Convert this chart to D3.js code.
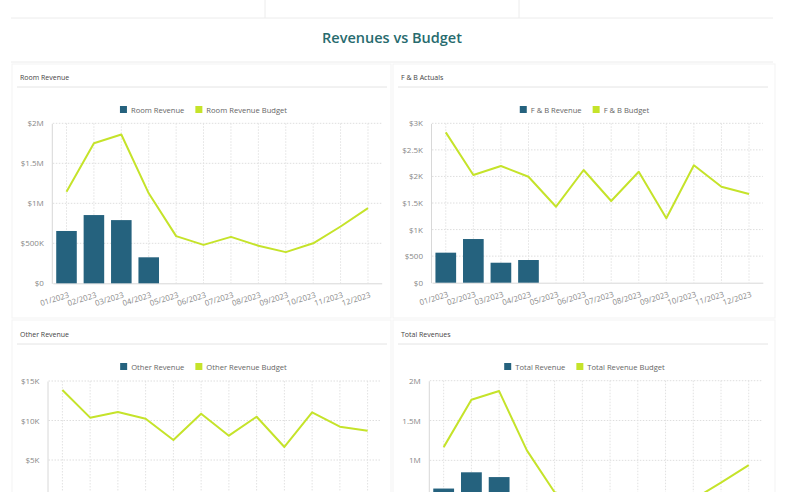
<!DOCTYPE html>
<html>
<head>
<meta charset="utf-8">
<script src="https://cdn.jsdelivr.net/npm/d3@7"></script>
<style>
  body { margin: 0; background: #fff; font-family: "Open Sans", sans-serif; }
  svg { display: block; }
</style>
</head>
<body>
<div id="chart"></div>
<script>
const months = ["01/2023", "02/2023", "03/2023", "04/2023", "05/2023", "06/2023",
                "07/2023", "08/2023", "09/2023", "10/2023", "11/2023", "12/2023"];

const roomRevenue = [654000, 853000, 790000, 325000];
const roomBudget = [1145000, 1750000, 1860000, 1125000, 590000, 480000,
                    580000, 470000, 390000, 500000, 710000, 940000];

const fbRevenue = [565, 822, 376, 427];
const fbBudget = [2830, 2027, 2196, 1995, 1430, 2121, 1538, 2089, 1212, 2209, 1807, 1669];

const otherRevenue = [];
const otherBudget = [13860, 10360, 11080, 10230, 7530, 10860, 8080, 10480, 6650, 11030, 9220, 8710];

const totalRevenue = [646000, 850000, 790000, 330000];
const totalBudget = [1166000, 1760000, 1870000, 1125000, 600000, 490000,
                     590000, 480000, 400000, 510000, 720000, 940000];

const roomTicks = [0, 500000, 1000000, 1500000, 2000000];
const roomTickLabels = ["$0", "$500K", "$1M", "$1.5M", "$2M"];
const fbTicks = [0, 500, 1000, 1500, 2000, 2500, 3000];
const fbTickLabels = ["$0", "$500", "$1K", "$1.5K", "$2K", "$2.5K", "$3K"];
const otherTicks = [0, 5000, 10000, 15000];
const otherTickLabels = ["$0", "$5K", "$10K", "$15K"];
const totalTicks = [0, 500000, 1000000, 1500000, 2000000];
const totalTickLabels = ["0", "500K", "1M", "1.5M", "2M"];

const barColor = "#25627e";
const lineColor = "#c5e32a";

const width = 786, height = 492;

const svg = d3.select("#chart")
    .append("svg")
    .attr("width", width)
    .attr("height", height);

svg.append("rect").attr("width", width).attr("height", height).attr("fill", "#fff");

// leftovers of the cards above + section frame
const frame = svg.append("g").attr("stroke", "#ececec").attr("fill", "none");
frame.append("line").attr("x1", 11).attr("x2", 773).attr("y1", 18).attr("y2", 18);
frame.append("line").attr("x1", 265).attr("x2", 265).attr("y1", 0).attr("y2", 18);
frame.append("line").attr("x1", 519).attr("x2", 519).attr("y1", 0).attr("y2", 18);
frame.append("line").attr("x1", 11).attr("x2", 773).attr("y1", 62).attr("y2", 62);
frame.append("rect").attr("x", 12).attr("y", 64).attr("width", 379).attr("height", 254).attr("stroke", "#f3f3f3");
frame.append("rect").attr("x", 393).attr("y", 64).attr("width", 382).attr("height", 254).attr("stroke", "#f3f3f3");
frame.append("rect").attr("x", 12).attr("y", 320).attr("width", 379).attr("height", 200).attr("stroke", "#f3f3f3");
frame.append("rect").attr("x", 393).attr("y", 320).attr("width", 382).attr("height", 200).attr("stroke", "#f3f3f3");

svg.append("text")
    .attr("x", 392)
    .attr("y", 43)
    .attr("text-anchor", "middle")
    .attr("fill", "#276b6e")
    .attr("font-size", "14.5px")
    .attr("font-weight", 600)
    .text("Revenues vs Budget");

function drawPanel(p) {
    const g = svg.append("g");

    g.append("text")
        .attr("x", p.left)
        .attr("y", p.titleY)
        .attr("fill", "#444")
        .attr("font-size", "7px")
        .text(p.title);
    g.append("line")
        .attr("x1", p.left - 3).attr("x2", p.right)
        .attr("y1", p.titleY + 7).attr("y2", p.titleY + 7)
        .attr("stroke", "#e4e4e4");

    const x = d3.scaleBand()
        .domain(months)
        .range([p.x0, p.x1])
        .paddingInner(0.25)
        .paddingOuter(0.125);

    const y = d3.scaleLinear()
        .domain([0, p.ticks[p.ticks.length - 1]])
        .range([p.y0, p.y1]);

    // legend
    const legend = g.append("g");
    const items = [
        { label: p.barLabel, color: barColor },
        { label: p.lineLabel, color: lineColor }
    ];
    let lx = 0;
    items.forEach(it => {
        const item = legend.append("g").attr("transform", `translate(${lx},0)`);
        item.append("rect")
            .attr("x", 0).attr("y", -6)
            .attr("width", 7).attr("height", 7)
            .attr("fill", it.color);
        const t = item.append("text")
            .attr("x", 11).attr("y", 0.5)
            .attr("fill", "#666")
            .attr("font-size", "7.6px")
            .text(it.label);
        lx += 11 + t.node().getComputedTextLength() + 11;
    });
    lx -= 11;
    legend.attr("transform", `translate(${(p.left + p.right) / 2 - lx / 2},${p.legendY})`);

    // grid
    g.append("g")
        .selectAll("line")
        .data(p.ticks.slice(1))
        .join("line")
        .attr("x1", p.x0).attr("x2", p.x1)
        .attr("y1", d => y(d)).attr("y2", d => y(d))
        .attr("stroke", "#dedede")
        .attr("stroke-dasharray", "1.5,1.5");
    g.append("g")
        .selectAll("line")
        .data(months)
        .join("line")
        .attr("x1", d => x(d) + x.bandwidth() / 2)
        .attr("x2", d => x(d) + x.bandwidth() / 2)
        .attr("y1", p.y1).attr("y2", p.y0)
        .attr("stroke", "#e2e2e2")
        .attr("stroke-dasharray", "1.5,1.5");

    // axes
    const yAxis = d3.axisLeft(y)
        .tickValues(p.ticks)
        .tickFormat((d, i) => p.tickLabels[i])
        .tickSize(0)
        .tickPadding(8);
    const ya = g.append("g").attr("transform", `translate(${p.x0 - 1},0)`).call(yAxis);
    ya.select(".domain").attr("stroke", "#d8d8d8");
    ya.selectAll("text").attr("fill", "#888").attr("font-size", "8px")
        .attr("font-family", "Open Sans");

    const xAxis = d3.axisBottom(x).tickSize(0).tickPadding(0);
    const xa = g.append("g").attr("transform", `translate(0,${p.y0})`).call(xAxis);
    xa.select(".domain").attr("stroke", "#d8d8d8");
    xa.selectAll("text")
        .attr("fill", "#888")
        .attr("font-size", "7.8px")
        .attr("font-family", "Open Sans")
        .attr("text-anchor", "end")
        .attr("dy", 0)
        .attr("y", 0)
        .attr("transform", "translate(3,14) rotate(-17)");

    // bars
    g.append("g")
        .selectAll("rect")
        .data(p.bars)
        .join("rect")
        .attr("x", (d, i) => x(months[i]))
        .attr("y", d => y(d))
        .attr("width", x.bandwidth())
        .attr("height", d => p.y0 - y(d))
        .attr("fill", barColor);

    // budget line
    const line = d3.line()
        .x((d, i) => x(months[i]) + x.bandwidth() / 2)
        .y(d => y(d));
    g.append("path")
        .datum(p.line)
        .attr("d", line)
        .attr("fill", "none")
        .attr("stroke", lineColor)
        .attr("stroke-width", 2)
        .attr("stroke-linejoin", "round");
}

drawPanel({
    title: "Room Revenue", left: 20, right: 387, titleY: 80, legendY: 112,
    x0: 52.8, x1: 381.7, y0: 283.3, y1: 123.3,
    ticks: roomTicks, tickLabels: roomTickLabels,
    barLabel: "Room Revenue", lineLabel: "Room Revenue Budget",
    bars: roomRevenue, line: roomBudget
});

drawPanel({
    title: "F & B Actuals", left: 401, right: 768, titleY: 80, legendY: 112,
    x0: 432, x1: 762.8, y0: 282.7, y1: 123.3,
    ticks: fbTicks, tickLabels: fbTickLabels,
    barLabel: "F & B Revenue", lineLabel: "F & B Budget",
    bars: fbRevenue, line: fbBudget
});

drawPanel({
    title: "Other Revenue", left: 20, right: 387, titleY: 337, legendY: 369,
    x0: 48.5, x1: 381.5, y0: 499.5, y1: 381,
    ticks: otherTicks, tickLabels: otherTickLabels,
    barLabel: "Other Revenue", lineLabel: "Other Revenue Budget",
    bars: otherRevenue, line: otherBudget
});

drawPanel({
    title: "Total Revenues", left: 401, right: 768, titleY: 337, legendY: 369,
    x0: 429.8, x1: 762.6, y0: 540, y1: 380.7,
    ticks: totalTicks, tickLabels: totalTickLabels,
    barLabel: "Total Revenue", lineLabel: "Total Revenue Budget",
    bars: totalRevenue, line: totalBudget
});
</script>
</body>
</html>
